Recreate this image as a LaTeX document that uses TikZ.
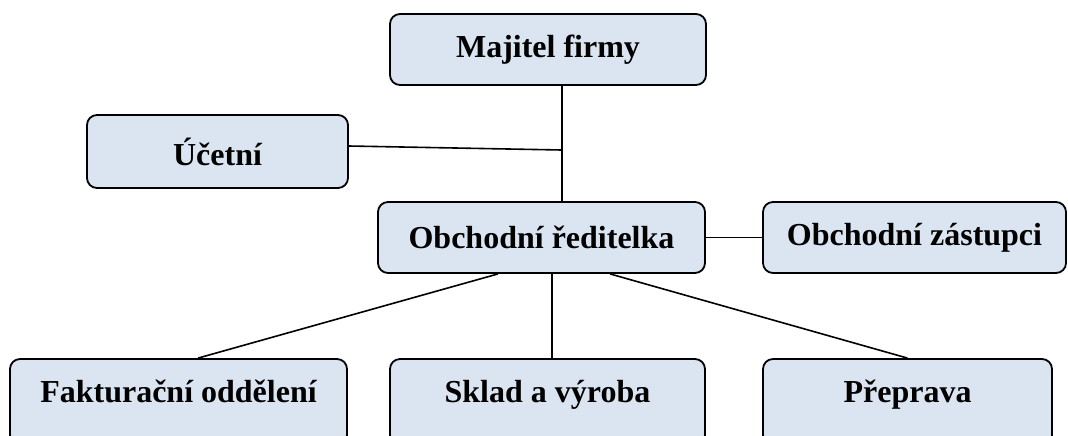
\documentclass[tikz,border=0pt]{standalone}
\usepackage{fontspec}
\setmainfont{Liberation Serif}
\definecolor{boxfill}{RGB}{219,229,241}
\begin{document}
\begin{tikzpicture}[x=0.5pt,y=-0.5pt,
	box/.style={draw,line width=0.9pt,rounded corners=5pt,fill=boxfill,
		font=\bfseries\fontsize{16}{19}\selectfont,inner sep=0pt,minimum height=35.5pt},
	lowbox/.style={box,minimum height=43pt,text height=10pt,text depth=10pt},
	link/.style={line width=0.8pt}]
\useasboundingbox (0,0) rectangle (1068,435);
\clip (0,0) rectangle (1068,435);
% top part
\node[box,minimum width=158pt] (majitel) at (548,49.5) {Majitel firmy};
\node[box,minimum width=130.5pt,minimum height=36.5pt] (ucetni) at (217.5,151.5) {Účetní};
\node[box,minimum width=163.5pt] (reditelka) at (541.5,237.5) {Obchodní ředitelka};
\node[box,minimum width=151.5pt] (zastupci) at (914.5,237.5) {Obchodní zástupci};
% bottom row
\node[lowbox,minimum width=168.5pt] (faktura) at (178.5,402) {Fakturační oddělení};
\node[lowbox,minimum width=157.5pt] (sklad) at (547.5,402) {Sklad a výroba};
\node[lowbox,minimum width=144.5pt] (preprava) at (907.5,402) {Přeprava};
% connectors
\coordinate (spine) at (562,150);
\coordinate (midout) at ([xshift=5.25pt]reditelka.south);
\draw[link] (majitel.south -| spine) -- (reditelka.north -| spine);
\draw[link] ([yshift=2.75pt]ucetni.east) -- (spine);
\draw[link] (reditelka) -- (zastupci);
\draw[link] ([xshift=-21.75pt]reditelka.south) -- ([xshift=9.75pt]faktura.north);
\draw[link] (midout) -- (midout |- sklad.north);
\draw[link] ([xshift=34.25pt]reditelka.south) -- (preprava.north);
\end{tikzpicture}
\end{document}
